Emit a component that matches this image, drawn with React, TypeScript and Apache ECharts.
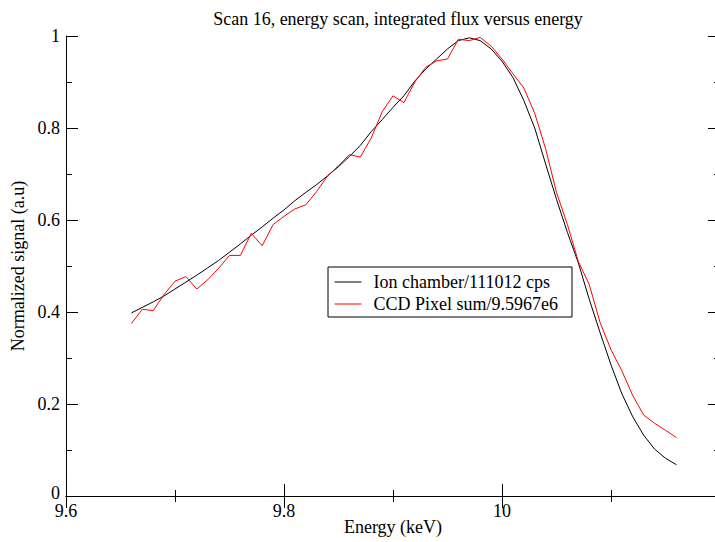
import React, { useEffect, useRef } from "react";
import * as echarts from "echarts";

const energies = [
  9.66, 9.67, 9.68, 9.69, 9.7, 9.71, 9.72, 9.73, 9.74, 9.75,
  9.76, 9.77, 9.78, 9.79, 9.8, 9.81, 9.82, 9.83, 9.84, 9.85,
  9.86, 9.87, 9.88, 9.89, 9.9, 9.91, 9.92, 9.93, 9.94, 9.95,
  9.96, 9.97, 9.98, 9.99, 10.0, 10.01, 10.02, 10.03, 10.04, 10.05,
  10.06, 10.07, 10.08, 10.09, 10.1, 10.11, 10.12, 10.13, 10.14, 10.15,
  10.16,
];

const ionChamber = [
  0.398, 0.41, 0.422, 0.435, 0.45, 0.465, 0.48, 0.496, 0.512, 0.53,
  0.548, 0.567, 0.585, 0.604, 0.622, 0.642, 0.66, 0.677, 0.696, 0.716,
  0.738, 0.762, 0.792, 0.818, 0.845, 0.87, 0.902, 0.928, 0.95, 0.972,
  0.99, 0.996, 0.99, 0.972, 0.945, 0.91, 0.86, 0.8, 0.722, 0.645,
  0.573, 0.507, 0.428, 0.355, 0.285, 0.222, 0.172, 0.132, 0.102, 0.082,
  0.068,
];

const ccdPixelSum = [
  0.375, 0.406, 0.403, 0.438, 0.467, 0.477, 0.45, 0.47, 0.495, 0.523,
  0.523, 0.571, 0.544, 0.59, 0.608, 0.624, 0.633, 0.662, 0.696, 0.718,
  0.742, 0.737, 0.778, 0.835, 0.87, 0.855, 0.9, 0.932, 0.946, 0.95,
  0.993, 0.99, 0.997, 0.978, 0.95, 0.918, 0.887, 0.832, 0.755, 0.66,
  0.59, 0.51, 0.46, 0.377, 0.318, 0.272, 0.218, 0.176, 0.158, 0.143,
  0.127,
];

const seriesNames = ["Ion chamber/111012 cps", "CCD Pixel sum/9.5967e6"];
const titleText = "Scan 16, energy scan, integrated flux versus energy";
const xName = "Energy (keV)";
const yName = "Normalized signal (a.u)";

const FONT = "Liberation Serif";

export default function App() {
  const ref = useRef<HTMLDivElement>(null);
  useEffect(() => {
    document.body.style.margin = "0";
    document.body.style.overflow = "hidden";
    document.documentElement.style.overflow = "hidden";
    const chart = echarts.init(ref.current!, null, { renderer: "svg" });
    const axisLine = { show: true, lineStyle: { color: "#000", width: 1 } };
    const tick = { show: true, inside: true, length: 12, lineStyle: { color: "#000" } };
    const minor = { show: true, splitNumber: 2, length: 6, lineStyle: { color: "#000" } };
    const fmt = (v: number) => {
      const r = Math.round(v * 10) / 10;
      if (Math.abs(r - 10.2) < 1e-6) return "";
      return String(r);
    };
    const fmtY = (v: number) => {
      const r = Math.round(v * 10) / 10;
      if (r === 0) return "{z|0}";
      return String(r);
    };
    chart.setOption({
      animation: false,
      backgroundColor: "#fff",
      title: {
        text: titleText,
        left: 393,
        textAlign: "center",
        top: 5,
        textStyle: { fontFamily: FONT, fontSize: 18, fontWeight: "normal", color: "#000" },
      },
      legend: {
        left: 328,
        top: 267,
        orient: "vertical",
        padding: [6, 14, 4, 6],
        borderColor: "#000",
        borderWidth: 1,
        itemWidth: 27,
        itemHeight: 16,
        itemGap: 4,
        itemStyle: { opacity: 0 },
        lineStyle: { width: 1 },
        textStyle: { fontFamily: FONT, fontSize: 18, color: "#000", padding: [0, 0, 0, 7] },
        data: seriesNames,
      },
      grid: { left: 66, top: 36, bottom: 46, right: 0, containLabel: false, outerBoundsMode: "none" },
      xAxis: [
        {
          type: "value",
          position: "bottom",
          min: 9.6,
          max: 10.2,
          interval: 0.2,
          name: xName,
          nameLocation: "middle",
          nameGap: 22,
          nameMoveOverlap: false,
          nameTextStyle: { fontFamily: FONT, fontSize: 18, color: "#000" },
          axisLine,
          axisTick: tick,
          minorTick: minor,
          splitLine: { show: false },
          axisLabel: {
            formatter: fmt,
            fontFamily: FONT,
            fontSize: 18,
            lineHeight: 14,
            color: "#000",
            margin: 8,
          },
        },
        {
          type: "value",
          position: "top",
          min: 9.6,
          max: 10.2,
          interval: 0.2,
          axisLine,
          axisTick: tick,
          minorTick: minor,
          splitLine: { show: false },
          axisLabel: { show: false },
        },
      ],
      yAxis: [
        {
          type: "value",
          position: "left",
          min: 0,
          max: 1,
          interval: 0.2,
          name: yName,
          nameLocation: "middle",
          nameGap: 35,
          nameTextStyle: { fontFamily: FONT, fontSize: 18, color: "#000" },
          axisLine,
          axisTick: tick,
          minorTick: minor,
          splitLine: { show: false },
          axisLabel: {
            formatter: fmtY,
            fontFamily: FONT,
            fontSize: 18,
            lineHeight: 13,
            color: "#000",
            margin: 6,
            rich: {
              z: {
                fontFamily: FONT,
                fontSize: 18,
                lineHeight: 13,
                color: "#000",
                padding: [0, 0, 6, 0],
              },
            },
          },
        },
        {
          type: "value",
          position: "right",
          min: 0,
          max: 1,
          interval: 0.2,
          axisLine,
          axisTick: tick,
          minorTick: minor,
          splitLine: { show: false },
          axisLabel: { show: false },
        },
      ],
      series: [
        {
          name: seriesNames[0],
          type: "line",
          xAxisIndex: 0,
          yAxisIndex: 0,
          showSymbol: false,
          symbol: "none",
          color: "#000",
          lineStyle: { color: "#000", width: 1 },
          data: energies.map((e, i) => [e, ionChamber[i]]),
        },
        {
          name: seriesNames[1],
          type: "line",
          xAxisIndex: 0,
          yAxisIndex: 0,
          showSymbol: false,
          symbol: "none",
          color: "#ff0000",
          lineStyle: { color: "#ff0000", width: 1 },
          data: energies.map((e, i) => [e, ccdPixelSum[i]]),
        },
      ],
    });
    return () => chart.dispose();
  }, []);
  return (
    <div
      ref={ref}
      style={{ position: "absolute", left: 0, top: 0, width: 720, height: 542 }}
    />
  );
}
